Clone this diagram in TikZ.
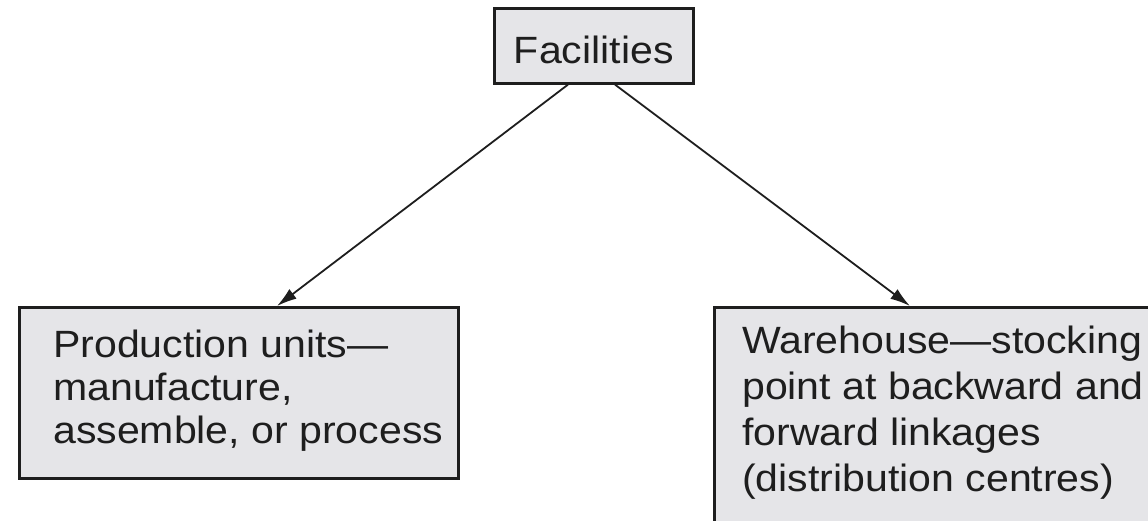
\documentclass[tikz,border=0pt]{standalone}
\usepackage{fontspec}
\setmainfont{Liberation Sans}
\newfontfamily\widesans[FakeStretch=1.08]{Liberation Sans}
\usetikzlibrary{arrows.meta,calc}
\definecolor{boxfill}{RGB}{229,229,232}
\definecolor{ink}{RGB}{30,30,30}
\begin{document}
\begin{tikzpicture}[x=1pt,y=-1pt,
  box/.style={draw=ink, line width=2.6pt, fill=boxfill, inner sep=0pt, anchor=north west},
  txt/.style={text=ink, align=left, inner sep=0pt, anchor=north west},
  arr/.style={draw=ink, line width=1.8pt, -{Latex[length=20pt,width=12pt]}}]
\useasboundingbox (0,0) rectangle (1148,520);
\node[box, minimum width=199pt, minimum height=75pt, text=ink, text height=35pt, text depth=0pt,
      font=\widesans\fontsize{38}{42}\selectfont] (fac) at (493,7) {Facilities};
\node[box, minimum width=439pt, minimum height=171pt] (prod) at (18,306) {};
\node[box, minimum width=460pt, minimum height=240pt] (ware) at (713,306) {};
\node[txt, font=\widesans\fontsize{38}{43}\selectfont] (prodtxt) at (53,330)
  {Production units—\\manufacture,\\assemble, or process};
\node[txt, font=\widesans\fontsize{38}{46}\selectfont] (waretxt) at (742,326)
  {Warehouse—stocking\\point at backward and\\forward linkages\\(distribution centres)};
\draw[arr] ($(fac.south west)+(75,0)$) -- ($(prod.north west)+(259,0)$);
\draw[arr] ($(fac.south west)+(122,0)$) -- ($(ware.north west)+(197,0)$);
\end{tikzpicture}
\end{document}
